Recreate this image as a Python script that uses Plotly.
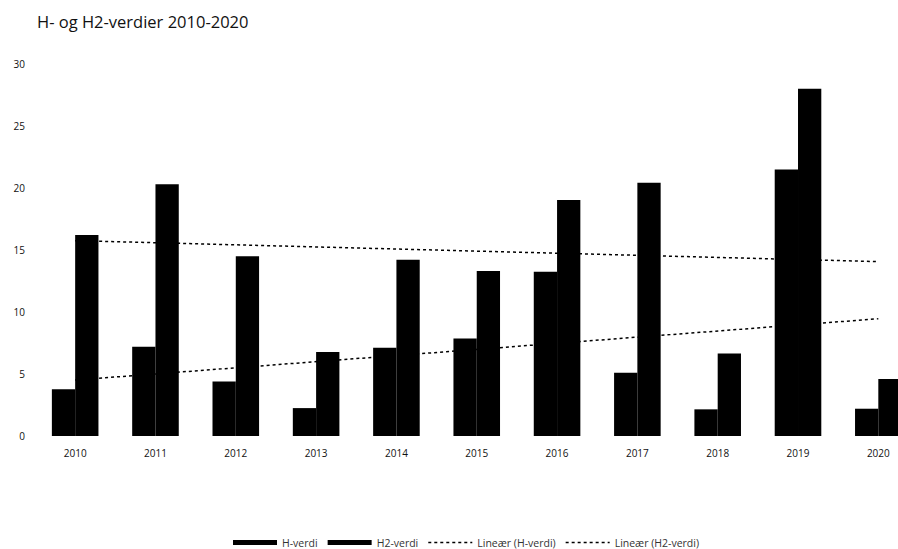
import numpy as np
import plotly.graph_objects as go

years = ["2010", "2011", "2012", "2013", "2014", "2015", "2016", "2017", "2018", "2019", "2020"]
h_verdi = [3.78, 7.2, 4.4, 2.25, 7.12, 7.86, 13.25, 5.1, 2.15, 21.5, 2.2]
h2_verdi = [16.2, 20.3, 14.5, 6.77, 14.22, 13.3, 19.04, 20.43, 6.65, 28.0, 4.6]
y_ticks = [0, 5, 10, 15, 20, 25, 30]

idx = np.arange(len(years))
h_fit = np.polyval(np.polyfit(idx, h_verdi, 1), idx)
h2_fit = np.polyval(np.polyfit(idx, h2_verdi, 1), idx)

font_family = "Open Sans, Liberation Sans, sans-serif"

W, H = 898, 557
k = H / 549.0  # vertical compensation for the capture

fig = go.Figure()
fig.add_trace(go.Bar(x=years, y=h_verdi, name="H-verdi", legendgroup="h", showlegend=False,
                     marker=dict(color="#000000", line=dict(width=0))))
fig.add_trace(go.Bar(x=years, y=h2_verdi, name="H2-verdi", legendgroup="h2", showlegend=False,
                     marker=dict(color="#000000", line=dict(width=0))))
# wide legend swatches like the original
fig.add_trace(go.Scatter(x=[None], y=[None], mode="lines", name="H-verdi", legendgroup="h",
                         line=dict(color="#000000", width=5)))
fig.add_trace(go.Scatter(x=[None], y=[None], mode="lines", name="H2-verdi", legendgroup="h2",
                         line=dict(color="#000000", width=5)))
fig.add_trace(go.Scatter(x=years, y=h_fit, mode="lines", name="Lineær (H-verdi)",
                         line=dict(color="#000000", width=1.5, dash="dot")))
fig.add_trace(go.Scatter(x=years, y=h2_fit, mode="lines", name="Lineær (H2-verdi)",
                         line=dict(color="#000000", width=1.5, dash="dot")))

top = 63 * k
bottom = 436 * k
plot_h = bottom - top
legend_y = -((543 - 436) * k) / plot_h

fig.update_layout(
    width=W, height=H,
    margin=dict(l=35, r=0, t=top, b=H - bottom),
    paper_bgcolor="white", plot_bgcolor="white",
    barmode="group", bargap=0.42, bargroupgap=0,
    font=dict(family=font_family, color="#000000"),
    title=dict(text="H- og H2-verdier 2010-2020", x=37 / W, xanchor="left",
               y=1 - (21.5 * k) / H, yanchor="middle",
               font=dict(size=16.5, family=font_family, color="#111111")),
    showlegend=True,
    legend=dict(orientation="h", x=0.5, xanchor="center", y=legend_y, yanchor="middle",
                font=dict(size=10.5, color="#333333"), traceorder="normal",
                itemwidth=44),
)
fig.update_xaxes(type="category", range=[-0.5, 10.245], showgrid=False, showline=False,
                 zeroline=False, ticks="", tickfont=dict(size=10, color="#111111"),
                 ticklabelstandoff=10)
fig.update_yaxes(range=[0, 30], tickvals=y_ticks, showgrid=False, showline=False,
                 zeroline=False, ticks="", tickfont=dict(size=10, color="#111111"),
                 ticklabelstandoff=9)

post = (
    "document.documentElement.style.margin='0';"
    "document.body.style.margin='0';"
    "document.body.style.overflow='hidden';"
)

fig.write_html("out.html", config={"displayModeBar": False}, post_script=post)
